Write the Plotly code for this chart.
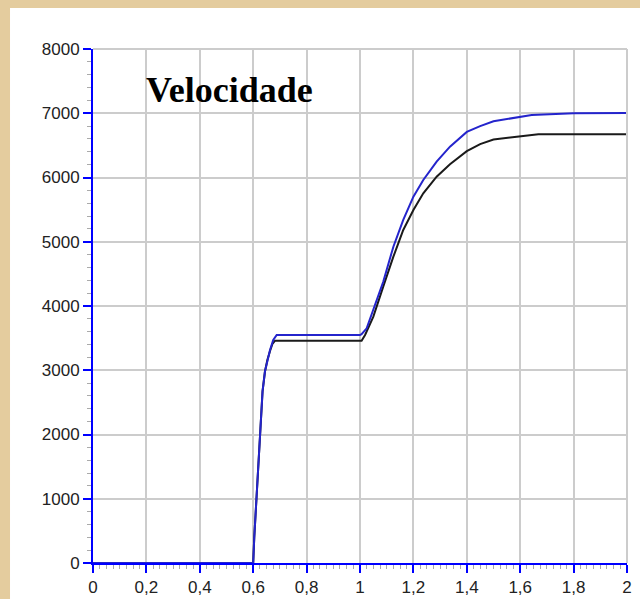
import plotly.graph_objects as go

# ---- data ----
time_blue = [0, 0.600, 0.604, 0.613, 0.623, 0.629, 0.635, 0.644, 0.653, 0.663, 0.675, 0.688,
             1.000, 1.006, 1.025, 1.05, 1.087, 1.125, 1.162, 1.2, 1.237, 1.287, 1.337,
             1.4, 1.45, 1.5, 1.587, 1.643, 1.8, 2.0]
vel_blue = [0, 0, 400, 1060, 1650, 2250, 2670, 2980, 3160, 3315, 3470, 3550,
            3550, 3560, 3652, 3938, 4378, 4923, 5339, 5702, 5961, 6246, 6480,
            6710, 6800, 6875, 6936, 6973, 7000, 7005]

time_black = [0, 0.600, 0.604, 0.613, 0.623, 0.629, 0.635, 0.644, 0.653, 0.663, 0.672, 0.682,
              1.006, 1.019, 1.05, 1.087, 1.125, 1.162, 1.2, 1.237, 1.287, 1.337,
              1.4, 1.45, 1.5, 1.587, 1.668, 2.0]
vel_black = [0, 0, 400, 1060, 1650, 2250, 2670, 2980, 3160, 3300, 3410, 3460,
             3460, 3549, 3834, 4301, 4768, 5183, 5494, 5754, 6013, 6205,
             6410, 6520, 6590, 6636, 6672, 6675]

x_tickvals = [0, 0.2, 0.4, 0.6, 0.8, 1.0, 1.2, 1.4, 1.6, 1.8, 2.0]
x_ticktext = ["0", "0,2", "0,4", "0,6", "0,8", "1", "1,2", "1,4", "1,6", "1,8", "2"]
y_tickvals = [0, 1000, 2000, 3000, 4000, 5000, 6000, 7000, 8000]
y_ticktext = ["0", "1000", "2000", "3000", "4000", "5000", "6000", "7000", "8000"]
title_text = "Velocidade"

fig = go.Figure()
fig.add_trace(go.Scatter(x=time_black, y=vel_black, mode="lines",
                         line=dict(color="#1a1a1a", width=2), showlegend=False))
fig.add_trace(go.Scatter(x=time_blue, y=vel_blue, mode="lines",
                         line=dict(color="#2424CC", width=2), showlegend=False))

axis_font = dict(family="Liberation Sans, Arial, sans-serif", size=17, color="#222222")

fig.update_xaxes(range=[0, 2], tickvals=x_tickvals, ticktext=x_ticktext,
                 showline=True, linecolor="#0000FF", linewidth=2,
                 ticks="outside", ticklen=8, tickwidth=2, tickcolor="#0000FF",
                 minor=dict(dtick=0.025, ticks="outside", ticklen=4, tickwidth=1,
                            tickcolor="#AAAAAA", showgrid=False),
                 showgrid=True, gridcolor="#CCCCCC", gridwidth=2, zeroline=False,
                 tickfont=axis_font, fixedrange=True, automargin=False)
fig.update_yaxes(range=[0, 8000], tickvals=y_tickvals, ticktext=y_ticktext,
                 showline=True, linecolor="#0000FF", linewidth=2,
                 ticks="outside", ticklen=8, tickwidth=2, tickcolor="#0000FF",
                 minor=dict(dtick=200, ticks="outside", ticklen=4, tickwidth=1,
                            tickcolor="#AAAAAA", showgrid=False),
                 showgrid=True, gridcolor="#CCCCCC", gridwidth=2, zeroline=False,
                 tickfont=axis_font, fixedrange=True, automargin=False)

# white panel on parchment background
fig.add_shape(type="rect", xref="paper", yref="paper",
              x0=-0.1554, x1=1.03, y0=-0.08, y1=1.0798,
              fillcolor="white", line=dict(width=0), layer="below")
# gray border on top and right
fig.add_shape(type="line", xref="paper", yref="paper", x0=1, x1=1, y0=0, y1=1,
              line=dict(color="#CCCCCC", width=2))
fig.add_shape(type="line", xref="paper", yref="paper", x0=0, x1=1, y0=1, y1=1,
              line=dict(color="#CCCCCC", width=2))

fig.add_annotation(text="<b>%s</b>" % title_text, xref="paper", yref="paper",
                   x=0.2547, y=(563 - 90) / 514, xanchor="center", yanchor="middle",
                   showarrow=False,
                   font=dict(family="Liberation Serif, Times New Roman, serif", size=36,
                             color="black"))

fig.update_layout(width=640, height=599,
                  margin=dict(l=93, r=13, t=49, b=36, autoexpand=False),
                  paper_bgcolor="#E4CC9E", plot_bgcolor="white")

fig.write_html("out.html", config={"displayModeBar": False},
               post_script="document.body.style.margin='0';document.body.style.overflow='hidden';")
